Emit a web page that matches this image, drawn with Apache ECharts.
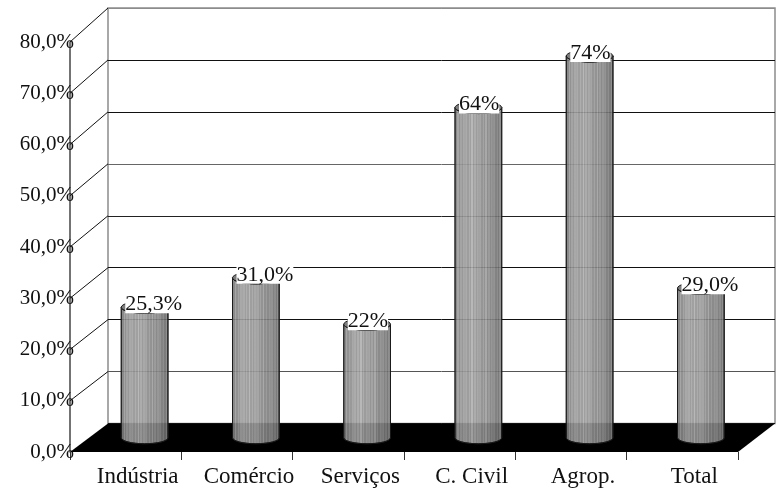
<!DOCTYPE html>
<html>
<head>
<meta charset="utf-8">
<script src="https://cdn.jsdelivr.net/npm/echarts@6/dist/echarts.min.js"></script>
<style>
  html, body { margin: 0; padding: 0; background: #fff; }
  #chart { width: 780px; height: 489px; }
</style>
</head>
<body>
<div id="chart"></div>
<script>
// Chart data
const categories = ['Indústria', 'Comércio', 'Serviços', 'C. Civil', 'Agrop.', 'Total'];
const values = [25.3, 31.0, 22, 64, 74, 29.0];
const valueLabels = ['25,3%', '31,0%', '22%', '64%', '74%', '29,0%'];
const axisTickLabels = ['0,0%', '10,0%', '20,0%', '30,0%', '40,0%', '50,0%', '60,0%', '70,0%', '80,0%'];

const FONT = '"Liberation Serif", "Times New Roman", serif';
const W = 780;

// Three parallel planes of the 3D box: front (axes), middle (cylinders), back (wall)
const front = { left: 70, right: 42, top: 42, bottom: 37 };
const back = { left: 108, right: 5, top: 8, bottom: 65.5 };
const mid = { left: 89, right: 23.5, top: 25, bottom: 51.25 };

// Vertical banded shading for the cylinder body
function baseShade(t) {
  const pts = [[0, 128], [0.15, 150], [0.35, 160], [0.6, 146], [0.85, 128], [1, 108]];
  for (let k = 1; k < pts.length; k++) {
    if (t <= pts[k][0]) {
      const a = pts[k - 1], b = pts[k];
      return a[1] + (b[1] - a[1]) * (t - a[0]) / (b[0] - a[0]);
    }
  }
  return pts[pts.length - 1][1];
}
function stripeFill() {
  const n = 34, stops = [];
  for (let k = 0; k < n; k++) {
    const t0 = k / n, t1 = (k + 1) / n;
    let g = Math.round(baseShade((t0 + t1) / 2) + (k % 2 ? -9 : 7) + (k % 5 === 2 ? 10 : 0));
    g = Math.max(0, Math.min(255, g));
    const c = 'rgb(' + g + ',' + g + ',' + g + ')';
    stops.push({ offset: t0, color: c }, { offset: t1, color: c });
  }
  return new echarts.graphic.LinearGradient(0, 0, 1, 0, stops);
}
const bodyFill = stripeFill();

function renderCylinder(params, api) {
  const i = api.value(0), v = api.value(1);
  const top = api.coord([i, v]);
  const base = api.coord([i, 0]);
  const w = api.size([1, 0])[0] * 0.42;
  const rx = w / 2, ry = 6;
  const x0 = top[0] - rx, x1 = top[0] + rx;
  const yT = top[1], yB = base[1];
  const body = 'M' + x0 + ' ' + yT + ' L' + x0 + ' ' + yB +
    ' A' + rx + ' ' + ry + ' 0 0 0 ' + x1 + ' ' + yB +
    ' L' + x1 + ' ' + yT +
    ' A' + rx + ' ' + ry + ' 0 0 1 ' + x0 + ' ' + yT + ' Z';
  const cap = 'M' + x0 + ' ' + yT +
    ' A' + rx + ' ' + ry + ' 0 1 1 ' + x1 + ' ' + yT +
    ' A' + rx + ' ' + ry + ' 0 1 1 ' + x0 + ' ' + yT + ' Z';
  return {
    type: 'group',
    children: [
      { type: 'path', shape: { pathData: body }, style: { fill: bodyFill, stroke: '#1a1a1a', lineWidth: 1, opacity: 0.9 } },
      { type: 'path', shape: { pathData: cap }, style: { fill: '#7d7d7d', stroke: '#1a1a1a', lineWidth: 1 } },
      {
        type: 'text',
        style: {
          text: valueLabels[params.dataIndex],
          x: x0 + 4, y: yT - 3,
          align: 'left', verticalAlign: 'middle',
          font: '22px ' + FONT,
          lineHeight: 18,
          fill: '#111',
          backgroundColor: '#fff'
        }
      }
    ]
  };
}

const chart = echarts.init(document.getElementById('chart'), null, { renderer: 'canvas' });

const gridLineColors = ['#222', '#555', '#111', '#111', '#222', '#666', '#111', '#111', '#8c8c8c'];

const option = {
  animation: false,
  backgroundColor: '#fff',
  grid: [
    Object.assign({}, front, { containLabel: false }),
    Object.assign({}, back, { containLabel: false, show: true, borderColor: '#8c8c8c', borderWidth: 1.5, backgroundColor: 'transparent' }),
    Object.assign({}, mid, { containLabel: false })
  ],
  xAxis: [
    {
      gridIndex: 0, type: 'category', data: categories, boundaryGap: true,
      axisLine: { show: false },
      axisTick: { show: true, length: 8, interval: 0, lineStyle: { color: '#333', width: 1 } },
      axisLabel: {
        interval: 0, hideOverlap: false, margin: 13, color: '#111',
        fontFamily: FONT, fontSize: 23, padding: [0, 0, 0, 24]
      },
      splitLine: { show: false }
    },
    { gridIndex: 1, type: 'category', data: categories, show: false },
    { gridIndex: 2, type: 'category', data: categories, show: false }
  ],
  yAxis: [
    {
      gridIndex: 0, type: 'value', min: 0, max: 80, interval: 10,
      axisLine: { show: true, lineStyle: { color: '#444', width: 1.5 } },
      axisTick: { show: false },
      splitLine: { show: false },
      axisLabel: {
        margin: -4, color: '#111', fontFamily: FONT, fontSize: 21, padding: [5, 0, 0, 0],
        formatter: v => axisTickLabels[Math.round(v / 10)]
      }
    },
    {
      gridIndex: 1, type: 'value', min: 0, max: 80, interval: 10,
      axisLine: { show: false }, axisTick: { show: false }, axisLabel: { show: false },
      splitLine: { show: true, lineStyle: { color: gridLineColors, width: 1 } }
    },
    { gridIndex: 2, type: 'value', min: 0, max: 80, interval: 10, show: false, splitLine: { show: false } }
  ],
  series: [
    {
      type: 'custom',
      xAxisIndex: 2, yAxisIndex: 2,
      z: 5,
      renderItem: renderCylinder,
      data: values.map((v, i) => [i, v])
    }
  ]
};
chart.setOption(option);

// Floor and left side wall, placed from the front and back value axes
const yF = v => chart.convertToPixel({ yAxisIndex: 0 }, v);
const yBk = v => chart.convertToPixel({ yAxisIndex: 1 }, v);
const fL = front.left, fR = W - front.right;
const bL = back.left, bR = W - back.right;
const graphics = [
  {
    type: 'polygon', z: 1,
    shape: { points: [[fL, yF(0)], [fR, yF(0)], [bR, yBk(0)], [bL, yBk(0)]] },
    style: { fill: '#000' }
  }
];
for (let k = 1; k < axisTickLabels.length; k++) {
  const v = k * 10;
  graphics.push({
    type: 'line', z: 1,
    shape: { x1: fL, y1: yF(v), x2: bL, y2: yBk(v) },
    style: { stroke: '#111', lineWidth: 1 }
  });
}
chart.setOption({ graphic: graphics });
</script>
</body>
</html>
